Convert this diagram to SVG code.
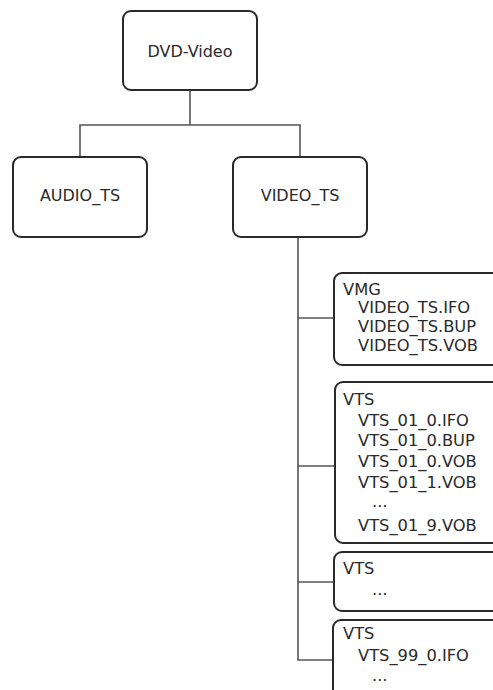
<svg xmlns="http://www.w3.org/2000/svg" width="493" height="690" viewBox="0 0 493 690">
<style>
.box{fill:#fff;stroke:#2a2a2a;stroke-width:2}
.conn{fill:none;stroke:#555;stroke-width:1.6}
text{font-family:"DejaVu Sans",Verdana,sans-serif;fill:#2a2a2a}
.big{font-size:16px}
.small{font-size:16.3px}
.c{text-anchor:middle}
</style>
<rect width="493" height="690" fill="#fff"/>
<g id="connectors">
<path class="conn" d="M190,91 V125 M80,157 V125 H300 V157"/>
<path class="conn" d="M298,237 V660 H334 M298,318 H334 M298,466 H335 M298,582 H334"/>
</g>
<g id="dvd-video">
<rect class="box" x="123" y="11" width="134" height="79" rx="8"/>
<text class="big c" x="190" y="57">DVD-Video</text>
</g>
<g id="audio-ts">
<rect class="box" x="13" y="157" width="134" height="80" rx="8"/>
<text class="big c" x="80" y="201">AUDIO_TS</text>
</g>
<g id="video-ts">
<rect class="box" x="233" y="157" width="134" height="80" rx="8"/>
<text class="big c" x="300" y="201">VIDEO_TS</text>
</g>
<g id="vmg">
<rect class="box" x="334" y="273" width="175" height="92" rx="8"/>
<text class="small" x="343" y="295">VMG</text>
<text class="small" x="358" y="313">VIDEO_TS.IFO</text>
<text class="small" x="358" y="332">VIDEO_TS.BUP</text>
<text class="small" x="358" y="351">VIDEO_TS.VOB</text>
</g>
<g id="vts-01">
<rect class="box" x="335" y="382" width="175" height="161" rx="8"/>
<text class="small" x="343" y="405">VTS</text>
<text class="small" x="358" y="426">VTS_01_0.IFO</text>
<text class="small" x="358" y="446">VTS_01_0.BUP</text>
<text class="small" x="358" y="467">VTS_01_0.VOB</text>
<text class="small" x="358" y="488">VTS_01_1.VOB</text>
<text class="small" x="372" y="507">...</text>
<text class="small" x="358" y="531">VTS_01_9.VOB</text>
</g>
<g id="vts-mid">
<rect class="box" x="334" y="552" width="175" height="59" rx="8"/>
<text class="small" x="343" y="574">VTS</text>
<text class="small" x="372" y="595">...</text>
</g>
<g id="vts-99">
<rect class="box" x="333" y="620" width="175" height="90" rx="8"/>
<text class="small" x="343" y="639">VTS</text>
<text class="small" x="358" y="661">VTS_99_0.IFO</text>
<text class="small" x="372" y="681">...</text>
</g>
</svg>
